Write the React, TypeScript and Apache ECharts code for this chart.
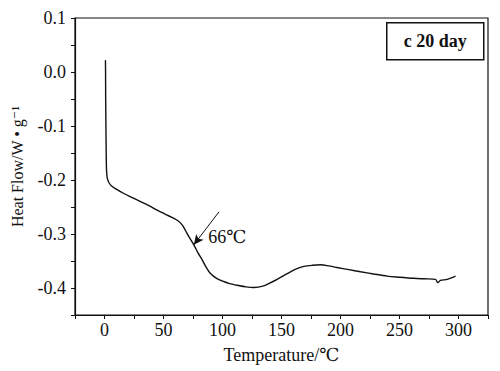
import React, { useEffect, useRef } from "react";
import * as echarts from "echarts";

const temperature = [0.8, 0.9, 1.0, 1.2, 1.4, 1.7, 2.5, 5, 10, 16.4, 23, 30.5, 38, 44.6, 52, 58.8, 62.5, 65.8, 68.5, 71.5, 75.7, 79, 82.8, 86, 89.8, 95, 101, 106, 112.4, 120, 126.6, 135, 140, 146.3, 152, 157.6, 163, 169, 176, 183, 190, 197, 207, 217, 228, 239.6, 250, 262, 271, 280.5, 282.5, 284.7, 290.4, 297.5];
const heatFlow = [0.022, 0.0, -0.05, -0.1, -0.14, -0.18, -0.198, -0.209, -0.217, -0.225, -0.232, -0.24, -0.248, -0.256, -0.264, -0.271, -0.276, -0.283, -0.293, -0.305, -0.32, -0.334, -0.348, -0.361, -0.373, -0.382, -0.388, -0.392, -0.395, -0.398, -0.399, -0.396, -0.391, -0.384, -0.377, -0.37, -0.364, -0.36, -0.358, -0.357, -0.359, -0.362, -0.366, -0.37, -0.374, -0.378, -0.38, -0.382, -0.383, -0.384, -0.39, -0.386, -0.384, -0.378];

const xTickLabels = [0, 50, 100, 150, 200, 250, 300];
const yTickLabels = [0.1, 0.0, -0.1, -0.2, -0.3, -0.4];

const arrowFrom = [97, -0.259];
const arrowTo = [75.7, -0.32];
const annotationPoint = [87.5, -0.3056];
const annotationText = "66℃";
const legendText = "c 20 day";

const serif = "'Liberation Serif', 'DejaVu Serif', serif";
const ink = "#111111";

export default function App() {
  const ref = useRef<HTMLDivElement>(null);
  useEffect(() => {
    if (!ref.current) return;
    const chart = echarts.init(ref.current, undefined, { renderer: "svg" });
    const data = temperature.map((t, i) => [t, heatFlow[i]]);
    chart.setOption({
      animation: false,
      backgroundColor: "#ffffff",
      grid: {
        left: 75,
        top: 18,
        right: 12,
        bottom: 56,
        show: true,
        borderColor: ink,
        borderWidth: 1.2,
        backgroundColor: "transparent",
      },
      xAxis: {
        type: "value",
        min: -25,
        max: 325,
        interval: 25,
        name: "Temperature/℃",
        nameLocation: "middle",
        nameGap: 31,
        nameTextStyle: { fontFamily: serif, fontSize: 18, color: ink },
        axisLine: { show: true, onZero: false, lineStyle: { color: ink, width: 1.2 } },
        axisTick: { show: true, length: 4, lineStyle: { color: ink } },
        splitLine: { show: false },
        axisLabel: {
          fontFamily: serif,
          fontSize: 18,
          color: ink,
          margin: 6,
          formatter: (v: number) => (xTickLabels.includes(Math.round(v)) ? String(Math.round(v)) : ""),
        },
      },
      yAxis: {
        type: "value",
        min: -0.45,
        max: 0.1,
        interval: 0.05,
        name: "Heat Flow/W • g⁻¹",
        nameLocation: "middle",
        nameGap: 50,
        nameTextStyle: { fontFamily: serif, fontSize: 16, color: ink },
        axisLine: { show: true, onZero: false, lineStyle: { color: ink, width: 1.2 } },
        axisTick: { show: true, length: 4, lineStyle: { color: ink } },
        splitLine: { show: false },
        axisLabel: {
          fontFamily: serif,
          fontSize: 18,
          color: ink,
          margin: 9,
          formatter: (v: number) => {
            const r = Math.round(v * 10) / 10;
            const match = yTickLabels.some((t) => Math.abs(t - v) < 1e-6);
            return match ? (r === 0 ? "0.0" : r.toFixed(1)) : "";
          },
        },
      },
      series: [
        {
          type: "line",
          data,
          showSymbol: false,
          smooth: 0.3,
          lineStyle: { color: ink, width: 1.4 },
          markLine: {
            silent: true,
            symbol: ["none", "arrow"],
            symbolSize: [7, 10],
            label: { show: false },
            lineStyle: { color: ink, width: 1, type: "solid" },
            data: [[{ coord: arrowFrom }, { coord: arrowTo }]],
          },
          markPoint: {
            silent: true,
            symbol: "circle",
            symbolSize: 1,
            itemStyle: { color: "rgba(0,0,0,0)" },
            label: {
              show: true,
              position: "right",
              distance: 0,
              formatter: annotationText,
              fontFamily: serif,
              fontSize: 18,
              color: ink,
            },
            data: [{ coord: annotationPoint }],
          },
        },
      ],
      graphic: [
        {
          type: "group",
          left: 386,
          top: 22,
          children: [
            {
              type: "rect",
              shape: { x: 0, y: 0, width: 97, height: 37 },
              style: { fill: "#fff", stroke: ink, lineWidth: 1.5 },
            },
            {
              type: "text",
              style: {
                x: 48.5,
                y: 18.5,
                text: legendText,
                align: "center",
                verticalAlign: "middle",
                fontFamily: serif,
                fontSize: 18,
                fontWeight: "bold",
                fill: ink,
              },
            },
          ],
        },
      ],
    });
    return () => chart.dispose();
  }, []);
  return (
    <div
      ref={ref}
      style={{ position: "fixed", left: 0, top: 0, width: 500, height: 371 }}
    />
  );
}
